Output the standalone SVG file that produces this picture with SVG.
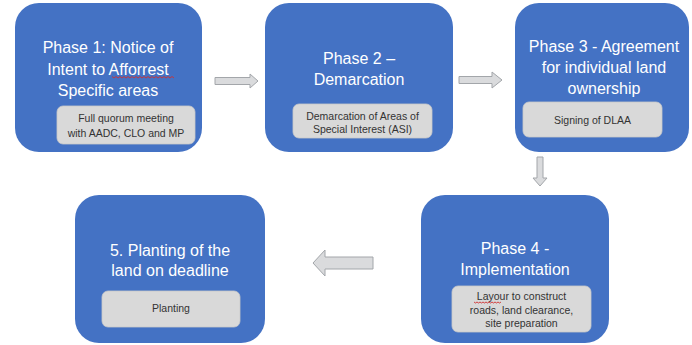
<svg xmlns="http://www.w3.org/2000/svg" width="692" height="345" viewBox="0 0 692 345">
<style>
.box{fill:#4472c4;}
.sub{fill:#d9d9d9;stroke:#c9c9c9;stroke-width:0.8;}
.title{font-family:"Liberation Sans",Arial,sans-serif;font-size:16px;fill:#ffffff;text-anchor:middle;}
.st{font-family:"Liberation Sans",Arial,sans-serif;font-size:10.5px;fill:#333333;text-anchor:middle;}
.arrow{fill:#dadbdd;stroke:#a3a6aa;stroke-width:1;stroke-linejoin:miter;}
.squig{fill:none;stroke:#d03030;stroke-width:0.9;}
</style>
<rect width="692" height="345" fill="#ffffff"/>
<g id="connectors">
<polygon class="arrow" points="215,77.5 250,77.5 250,74 258,81 250,88 250,84.5 215,84.5"/>
<polygon class="arrow" points="459,76.5 492,76.5 492,72 502,80 492,88 492,83.5 459,83.5"/>
<polygon class="arrow" points="537,157 543,157 543,178 547,178 540,186 533,178 537,178"/>
<polygon class="arrow" points="373,257 325,257 325,250 313,263 325,276 325,269 373,269"/>
</g>
<g id="phase1">
<rect class="box" x="15" y="3" width="187" height="149" rx="24"/>
<text class="title" x="108" y="53">Phase 1: Notice of</text>
<text class="title" x="108" y="74.5">Intent to Afforrest</text>
<text class="title" x="108" y="96">Specific areas</text>
<polyline class="squig" points="112,76.5 114,78 116,76.5 118,78 120,76.5 122,78 124,76.5 126,78 128,76.5 130,78 132,76.5 134,78 136,76.5 138,78 140,76.5 142,78 144,76.5 146,78 148,76.5 150,78 152,76.5 154,78 156,76.5 158,78 160,76.5 162,78 164,76.5 166,78 168,76.5 170,78 172,76.5 174,78"/>
<rect class="sub" x="57" y="106" width="138" height="38" rx="6"/>
<text class="st" x="126" y="122">Full quorum meeting</text>
<text class="st" x="126" y="137">with AADC, CLO and MP</text>
</g>
<g id="phase2">
<rect class="box" x="265" y="3" width="188" height="149" rx="24"/>
<text class="title" x="359" y="63.5">Phase 2 –</text>
<text class="title" x="359" y="85">Demarcation</text>
<rect class="sub" x="293" y="104" width="139" height="34" rx="6"/>
<text class="st" x="362.5" y="120">Demarcation of Areas of</text>
<text class="st" x="362.5" y="133">Special Interest (ASI)</text>
</g>
<g id="phase3">
<rect class="box" x="515" y="3" width="174" height="149" rx="24"/>
<text class="title" x="604" y="52">Phase 3 - Agreement</text>
<text class="title" x="604" y="73">for individual land</text>
<text class="title" x="604" y="94">ownership</text>
<rect class="sub" x="523" y="102" width="139" height="35" rx="6"/>
<text class="st" x="592.5" y="123.5">Signing of DLAA</text>
</g>
<g id="phase4">
<rect class="box" x="421" y="195" width="188" height="148" rx="24"/>
<text class="title" x="515" y="254">Phase 4 -</text>
<text class="title" x="515" y="275">Implementation</text>
<rect class="sub" x="452" y="286" width="139" height="46" rx="6"/>
<text class="st" x="521.5" y="300">Layour to construct</text>
<text class="st" x="521.5" y="313.5">roads, land clearance,</text>
<text class="st" x="521.5" y="327">site preparation</text>
<polyline class="squig" points="474,302 475.5,303 477,302 478.5,303 480,302 481.5,303 483,302 484.5,303 486,302 487.5,303 489,302 490.5,303 492,302 493.5,303 495,302 496.5,303 498,302 499.5,303 501,302"/>
</g>
<g id="phase5">
<rect class="box" x="75" y="195" width="190" height="148" rx="24"/>
<text class="title" x="170" y="256">5. Planting of the</text>
<text class="title" x="170" y="276">land on deadline</text>
<rect class="sub" x="102" y="291" width="138" height="36" rx="6"/>
<text class="st" x="171" y="312">Planting</text>
</g>
</svg>
